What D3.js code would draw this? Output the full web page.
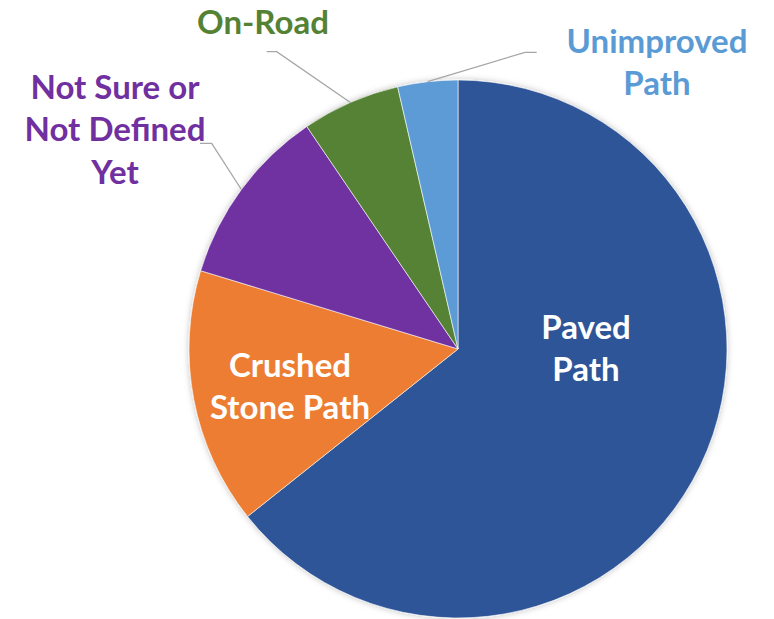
<!DOCTYPE html>
<html lang="en">
<head>
	<meta charset="UTF-8">
	<title>Path Type Pie</title>
	<script src="https://d3js.org/d3.v7.min.js"></script>
	<style>
		html, body { margin: 0; padding: 0; background: #fff; }
		.slice-label {
			font-family: Lato, "Open Sans", sans-serif;
			font-weight: bold;
			font-size: 33px;
		}
		.leader {
			fill: none;
			stroke: #a6a6a6;
			stroke-width: 1.3px;
		}
	</style>
</head>
<body>
<svg id="chart" width="774" height="619"></svg>
<script>
const width = 774, height = 619;
const cx = 458, cy = 349, radius = 269;

// Slices clockwise from 12 o'clock
const categories = ["Paved Path", "Crushed Stone Path", "Not Sure or Not Defined Yet", "On-Road", "Unimproved Path"];
const shares = [64.3, 15.4, 10.8, 5.9, 3.6];
const colors = ["#2F5597", "#ED7D31", "#7030A0", "#548235", "#5B9BD5"];

// label lines and where they sit
const labelLines = [
	["Paved", "Path"],
	["Crushed", "Stone Path"],
	["Not Sure or", "Not Defined", "Yet"],
	["On-Road"],
	["Unimproved", "Path"]
];
const labelPos = [
	{x: 586, y: 327, fill: "#fff"},
	{x: 290, y: 365, fill: "#fff"},
	{x: 115, y: 87, fill: "#7030A0"},
	{x: 263, y: 22, fill: "#548235"},
	{x: 657, y: 41, fill: "#5B9BD5"}
];
// elbow and end of leader lines (outside labels only)
const leaders = [
	null,
	null,
	{elbow: [211.7, 143.3], end: [200, 143.3]},
	{elbow: [276.7, 51.7], end: [266.7, 51.7]},
	{elbow: [525, 52.3], end: [536.7, 52.3]}
];
const lineHeight = 42.5;

const svg = d3.select("#chart");

const defs = svg.append("defs");
const shadow = defs.append("filter").attr("id", "shadow")
	.attr("x", "-10%").attr("y", "-10%").attr("width", "120%").attr("height", "120%");
shadow.append("feDropShadow")
	.attr("dx", 0).attr("dy", 0)
	.attr("stdDeviation", 3)
	.attr("flood-color", "#000")
	.attr("flood-opacity", 0.25);

const data = categories.map((c, i) => ({name: c, value: shares[i], i: i}));
const pie = d3.pie().sort(null).value(d => d.value);
const arcs = pie(data);
const arc = d3.arc().innerRadius(0).outerRadius(radius);

const g = svg.append("g").attr("transform", `translate(${cx},${cy})`);

g.append("g").attr("filter", "url(#shadow)")
	.selectAll("path")
	.data(arcs)
	.enter()
	.append("path")
	.attr("d", arc)
	.attr("fill", d => colors[d.data.i])
	.attr("stroke", "#fff")
	.attr("stroke-width", 0.6);

// leader lines
arcs.forEach(a => {
	const ld = leaders[a.data.i];
	if (!ld) return;
	const mid = (a.startAngle + a.endAngle) / 2;
	const px = cx + radius * Math.sin(mid);
	const py = cy - radius * Math.cos(mid);
	svg.append("polyline")
		.attr("class", "leader")
		.attr("points", [[px, py], ld.elbow, ld.end].map(p => p.join(",")).join(" "));
});

// labels
arcs.forEach(a => {
	const i = a.data.i;
	const pos = labelPos[i];
	const t = svg.append("text")
		.attr("class", "slice-label")
		.attr("text-anchor", "middle")
		.attr("fill", pos.fill);
	labelLines[i].forEach((ln, k) => {
		t.append("tspan")
			.attr("x", pos.x)
			.attr("y", pos.y + k * lineHeight)
			.attr("dy", "0.35em")
			.text(ln);
	});
});
</script>
</body>
</html>
